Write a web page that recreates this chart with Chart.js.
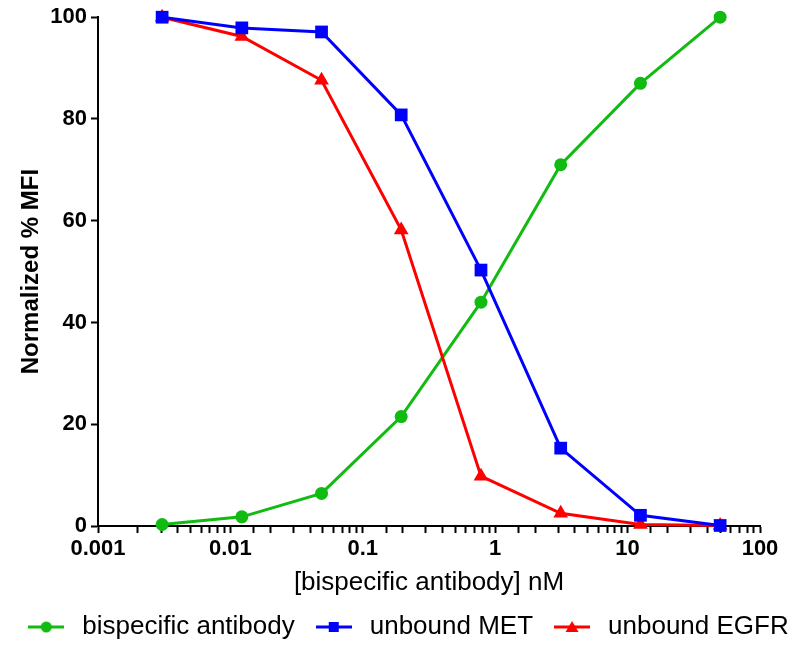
<!DOCTYPE html>
<html>
<head>
<meta charset="utf-8">
<script src="https://cdn.jsdelivr.net/npm/chart.js@4.4.1/dist/chart.umd.min.js"></script>
<style>
    html, body { margin: 0; padding: 0; background: #fff; }
    #wrap { width: 812px; height: 650px; }
</style>
</head>
<body>
<div id="wrap"><canvas id="chart" width="812" height="650"></canvas></div>
<script>
const FONT = "'Liberation Sans', Arial, Helvetica, sans-serif";

// antibody concentration (nM), 4-fold dilutions from 50
const concentrations = [0.00305, 0.0122, 0.0488, 0.195, 0.781, 3.125, 12.5, 50];

// normalized % MFI
const bispecificMFI = [0.3, 1.8, 6.4, 21.5, 44, 71, 87, 100];
const metMFI        = [100, 97.9, 97.1, 80.8, 50.3, 15.3, 2.1, 0.1];
const egfrMFI       = [100, 96.2, 87.6, 58.2, 9.8, 2.5, 0.3, 0.1];

const seriesNames  = ['bispecific antibody', 'unbound MET', 'unbound EGFR'];
const seriesColors = ['#11bb11', '#0000ff', '#ff0000'];
const seriesStyles = ['circle', 'rect', 'triangle'];

const xTickValues = [0.001, 0.01, 0.1, 1, 10, 100];
const xTickLabels = ['0.001', '0.01', '0.1', '1', '10', '100'];
const yTicks = [0, 20, 40, 60, 80, 100];

// build {x,y} points from the arrays
function toPoints(values) {
    return concentrations.map((c, i) => ({ x: c, y: values[i] }));
}

// small line + marker picture for the legend
function legendIcon(color, style) {
    const c = document.createElement('canvas');
    c.width = 36;
    c.height = 16;
    const ctx = c.getContext('2d');
    ctx.strokeStyle = color;
    ctx.fillStyle = color;
    ctx.lineWidth = 3;
    ctx.beginPath();
    ctx.moveTo(0, 8);
    ctx.lineTo(36, 8);
    ctx.stroke();
    ctx.beginPath();
    if (style === 'circle') {
        ctx.arc(18, 8, 5.5, 0, Math.PI * 2);
    } else if (style === 'rect') {
        ctx.rect(13, 3, 10, 10);
    } else {
        ctx.moveTo(18, 2);
        ctx.lineTo(24.5, 13);
        ctx.lineTo(11.5, 13);
        ctx.closePath();
    }
    ctx.fill();
    return c;
}

const allValues = [bispecificMFI, metMFI, egfrMFI];
const radii = [6.5, 9, 8.5];
const drawOrder = [3, 1, 2]; // blue on top, then red, then green

const datasets = allValues.map((vals, i) => ({
    label: seriesNames[i],
    data: toPoints(vals),
    borderColor: seriesColors[i],
    backgroundColor: seriesColors[i],
    borderWidth: 3,
    pointStyle: seriesStyles[i],
    pointRadius: radii[i],
    pointBorderWidth: 0,
    pointBackgroundColor: seriesColors[i],
    tension: 0,
    clip: false,
    order: drawOrder[i]
}));

const icons = seriesColors.map((c, i) => legendIcon(c, seriesStyles[i]));

const tickFont = { family: FONT, size: 22, weight: 'bold' };

new Chart(document.getElementById('chart'), {
    type: 'line',
    data: { datasets },
    options: {
        responsive: false,
        animation: false,
        layout: { padding: { left: 0, right: 0, top: 11, bottom: 0 } },
        plugins: {
            tooltip: { enabled: false },
            legend: {
                position: 'bottom',
                labels: {
                    usePointStyle: true,
                    pointStyleWidth: 46,
                    boxHeight: 16,
                    padding: 16,
                    color: '#000',
                    font: { family: FONT, size: 26 },
                    generateLabels: chart => chart.data.datasets.map((ds, i) => ({
                        text: ds.label,
                        pointStyle: icons[i],
                        fillStyle: seriesColors[i],
                        strokeStyle: seriesColors[i],
                        lineWidth: 0,
                        fontColor: '#000',
                        hidden: false,
                        datasetIndex: i
                    }))
                }
            }
        },
        scales: {
            x: {
                type: 'logarithmic',
                min: 0.001,
                max: 100,
                afterFit: s => { s.height = 72; },
                border: { display: true, color: '#000', width: 2 },
                grid: {
                    drawOnChartArea: false,
                    drawTicks: true,
                    tickLength: 7,
                    tickWidth: 2,
                    tickColor: '#000'
                },
                ticks: {
                    autoSkip: false,
                    maxRotation: 0,
                    padding: 3,
                    color: '#000',
                    font: tickFont,
                    callback: value => {
                        const k = xTickValues.findIndex(v => Math.abs(v - value) / v < 1e-6);
                        return k >= 0 ? xTickLabels[k] : '';
                    }
                },
                title: {
                    display: true,
                    text: '[bispecific antibody] nM',
                    color: '#000',
                    font: { family: FONT, size: 26 },
                    padding: { top: 4, bottom: 0 }
                }
            },
            y: {
                min: 0,
                max: 100,
                afterFit: s => { s.width = 98; },
                afterBuildTicks: s => { s.ticks = yTicks.map(v => ({ value: v })); },
                border: { display: true, color: '#000', width: 2 },
                grid: {
                    drawOnChartArea: false,
                    drawTicks: true,
                    tickLength: 7,
                    tickWidth: 2,
                    tickColor: '#000'
                },
                ticks: {
                    padding: 4,
                    color: '#000',
                    font: tickFont
                },
                title: {
                    display: true,
                    text: 'Normalized % MFI',
                    color: '#000',
                    font: { family: FONT, size: 24, weight: 'bold' },
                    padding: { top: 17, bottom: 4 }
                }
            },
            // empty right-hand axis that only reserves the gap after x = 100
            yRight: {
                position: 'right',
                display: true,
                afterFit: s => { s.width = 52; },
                grid: { display: false },
                border: { display: false },
                ticks: { display: false }
            }
        }
    }
});
</script>
</body>
</html>
